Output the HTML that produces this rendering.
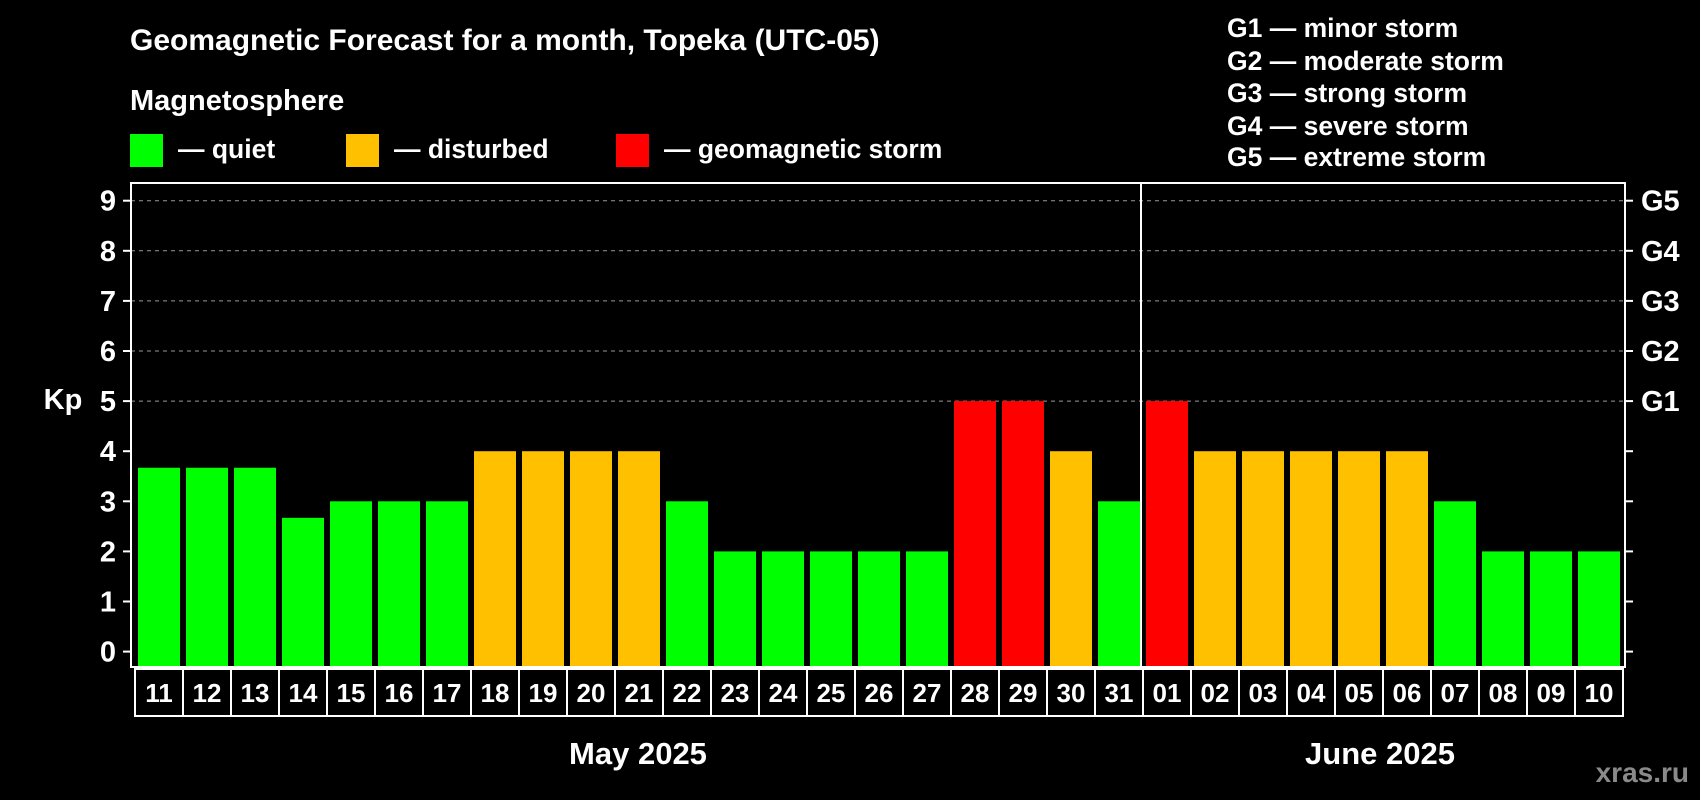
<!DOCTYPE html>
<html><head><meta charset="utf-8"><style>
html,body{margin:0;padding:0;background:#000;}
svg{display:block;font-family:"Liberation Sans",Arial,sans-serif;font-weight:bold;}
</style></head><body>
<svg id="chart" width="1700" height="800" viewBox="0 0 1700 800">
<rect x="0" y="0" width="1700" height="800" fill="#000"/>
<text x="130" y="50" fill="#fff" font-size="30">Geomagnetic Forecast for a month, Topeka (UTC-05)</text>
<text x="130" y="110" fill="#fff" font-size="29">Magnetosphere</text>
<g><rect x="130" y="134" width="33" height="33" fill="#00ff00"/><text x="178" y="158" fill="#fff" font-size="26.5">— quiet</text></g>
<g><rect x="346" y="134" width="33" height="33" fill="#ffc000"/><text x="394" y="158" fill="#fff" font-size="26.5">— disturbed</text></g>
<g><rect x="616" y="134" width="33" height="33" fill="#ff0000"/><text x="664" y="158" fill="#fff" font-size="26.5">— geomagnetic storm</text></g>
<g fill="#fff" font-size="26.5">
<text x="1227" y="37">G1 — minor storm</text>
<text x="1227" y="70">G2 — moderate storm</text>
<text x="1227" y="102">G3 — strong storm</text>
<text x="1227" y="135">G4 — severe storm</text>
<text x="1227" y="166">G5 — extreme storm</text>
</g>
<text x="63" y="409" fill="#fff" font-size="29" text-anchor="middle">Kp</text>
<text x="638" y="764" fill="#fff" font-size="31" text-anchor="middle">May 2025</text>
<text x="1380" y="764" fill="#fff" font-size="31" text-anchor="middle">June 2025</text>
<text x="1689" y="782" fill="#8a8a8a" font-size="28" text-anchor="end">xras.ru</text>
<g id="grid"></g><g id="bars"></g><g id="axes"></g><g id="dates"></g>
</svg>
<script>
const days = ["11","12","13","14","15","16","17","18","19","20","21","22","23","24","25","26","27","28","29","30","31","01","02","03","04","05","06","07","08","09","10"];
const kpValues = [3.67,3.67,3.67,2.67,3,3,3,4,4,4,4,3,2,2,2,2,2,5,5,4,3,5,4,4,4,4,4,3,2,2,2];
const yTicks = ["0","1","2","3","4","5","6","7","8","9"];
const gLabels = ["G1","G2","G3","G4","G5"];
const NS="http://www.w3.org/2000/svg";
const L=131,R=1625,T=183,B=667,Y0=651.6,UNIT=50.1,PITCH=48,BW=42,BX0=138;
function y(v){return Y0-v*UNIT;}
function x(i){return BX0+i*PITCH;}
function color(v){return v>=5?"#ff0000":(v>=4?"#ffc000":"#00ff00");}
function mk(tag,attrs,parent){const e=document.createElementNS(NS,tag);for(const k in attrs)e.setAttribute(k,attrs[k]);parent.appendChild(e);return e;}
const grid=document.getElementById("grid"),bars=document.getElementById("bars"),axes=document.getElementById("axes"),dates=document.getElementById("dates");
yTicks.forEach((t,i)=>{
  const v=+t;
  if(v>=5){const g=mk("line",{x1:L,x2:R,y1:y(v),y2:y(v),stroke:"#999","stroke-dasharray":"4,4","stroke-width":1},grid);
  
  }
  const tk=mk("line",{x1:L-8,x2:L,y1:y(v),y2:y(v),stroke:"#fff","stroke-width":2},axes);
  
  
  const tr=mk("line",{x1:R,x2:R+8,y1:y(v),y2:y(v),stroke:"#fff","stroke-width":2},axes);
  
  
  const lb=mk("text",{x:116,y:y(v)+10,fill:"#fff","font-size":29,"text-anchor":"end"},axes);
  lb.textContent=t;
  
  
});
gLabels.forEach((g,i)=>{
  const lb=mk("text",{x:1641,y:y(5+i)+10,fill:"#fff","font-size":29},axes);
  lb.textContent=g;
  
  
});
kpValues.forEach((v,i)=>{
  const r=mk("rect",{x:x(i),y:y(v),width:BW,height:B-y(v),fill:color(v)},bars);
  
  
});
const fr=mk("rect",{x:L,y:T,width:R-L,height:B-T,fill:"none",stroke:"#fff","stroke-width":2},axes);


const dv=mk("line",{x1:x(21)-5,x2:x(21)-5,y1:T,y2:B,stroke:"#fff","stroke-width":2},axes);


days.forEach((d,i)=>{
  const bx=x(i)-3;
  const r=mk("rect",{x:bx,y:669,width:PITCH,height:47,fill:"#000",stroke:"#fff","stroke-width":2},dates);
  
  
  const t=mk("text",{x:bx+PITCH/2,y:702,fill:"#fff","font-size":26,"text-anchor":"middle"},dates);
  t.textContent=d;
  
  
});
</script>
</body></html>
